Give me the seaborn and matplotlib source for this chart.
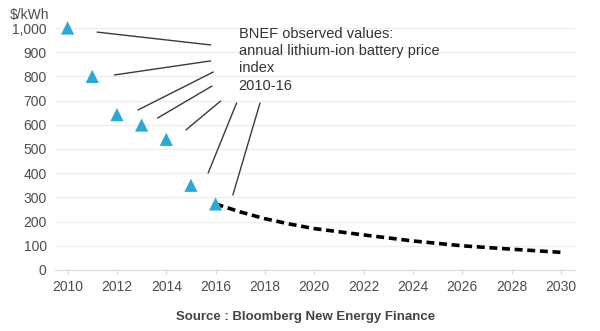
import matplotlib
matplotlib.use("Agg")
import matplotlib.pyplot as plt
import seaborn as sns
import pandas as pd

# Observed BNEF battery pack prices ($/kWh)
obs_years = [2010, 2011, 2012, 2013, 2014, 2015, 2016]
obs_prices = [1000, 800, 642, 599, 540, 350, 273]

# Forecast curve
fc_years = [2016, 2017, 2018, 2019, 2020, 2022, 2024, 2026, 2028, 2030]
fc_prices = [273, 240, 212, 190, 171, 145, 120, 100, 86, 73]

x_ticks = list(range(2010, 2031, 2))
y_ticks = list(range(0, 1001, 100))
y_labels = [f"{v:,}" for v in y_ticks]

obs = pd.DataFrame({"year": obs_years, "price": obs_prices})
fc = pd.DataFrame({"year": fc_years, "price": fc_prices})

sns.set_theme(style="white")
plt.rcParams["font.family"] = ["Liberation Sans", "DejaVu Sans"]

fig = plt.figure(figsize=(6, 3.31), dpi=100)
ax = fig.add_axes([0.0917, 0.1843, 0.8666, 0.7311])

ax.set_xlim(2009.49, 2030.57)
ax.set_ylim(0, 1000)

for v in y_ticks:
    ax.axhline(v, color="#ececec", lw=0.8, zorder=0)

sns.lineplot(data=fc, x="year", y="price", ax=ax, color="black", lw=2.6,
             linestyle=(0, (2.2, 1.3)), zorder=2)
sns.scatterplot(data=obs, x="year", y="price", ax=ax, marker="^", s=90,
                color="#29a9d6", edgecolor="none", zorder=3, clip_on=False)

for s in ["top", "right", "left"]:
    ax.spines[s].set_visible(False)
ax.spines["bottom"].set_color("#d9d9d9")
ax.spines["bottom"].set_linewidth(0.8)

ax.set_xticks(x_ticks)
ax.set_xticklabels([str(t) for t in x_ticks])
ax.set_yticks(y_ticks)
ax.set_yticklabels(y_labels)
ax.tick_params(axis="x", colors="#4d4d4d", labelsize=10, length=3, width=0.8,
               color="#d9d9d9", direction="out", pad=4, bottom=True)
ax.tick_params(axis="y", colors="#4d4d4d", labelsize=10, length=0, pad=6)
ax.set_xlabel("")
ax.set_ylabel("")

# Annotation text and leader lines
ax.text(2016.93, 1005, "BNEF observed values:\nannual lithium-ion battery price\nindex\n2010-16",
        fontsize=10.5, color="#333333", va="top", ha="left", linespacing=1.3)

leaders = [
    ((2011.2, 983), (2015.8, 930)),
    ((2011.9, 806), (2015.8, 864)),
    ((2012.85, 661), (2015.9, 818)),
    ((2013.65, 628), (2015.85, 760)),
    ((2014.8, 579), (2016.2, 698)),
    ((2015.7, 401), (2016.85, 690)),
    ((2016.7, 310), (2017.8, 690)),
]
for (x0, y0), (x1, y1) in leaders:
    ax.plot([x0, x1], [y0, y1], color="#3a3a3a", lw=1.0, zorder=1)

fig.text(0.017, 0.975, "$/kWh", fontsize=10, color="#4d4d4d", va="top", ha="left")
fig.text(0.51, 0.025, "Source : Bloomberg New Energy Finance", fontsize=9.5,
         color="#444444", weight="bold", ha="center", va="bottom")

fig.savefig("out.png", dpi=100)
